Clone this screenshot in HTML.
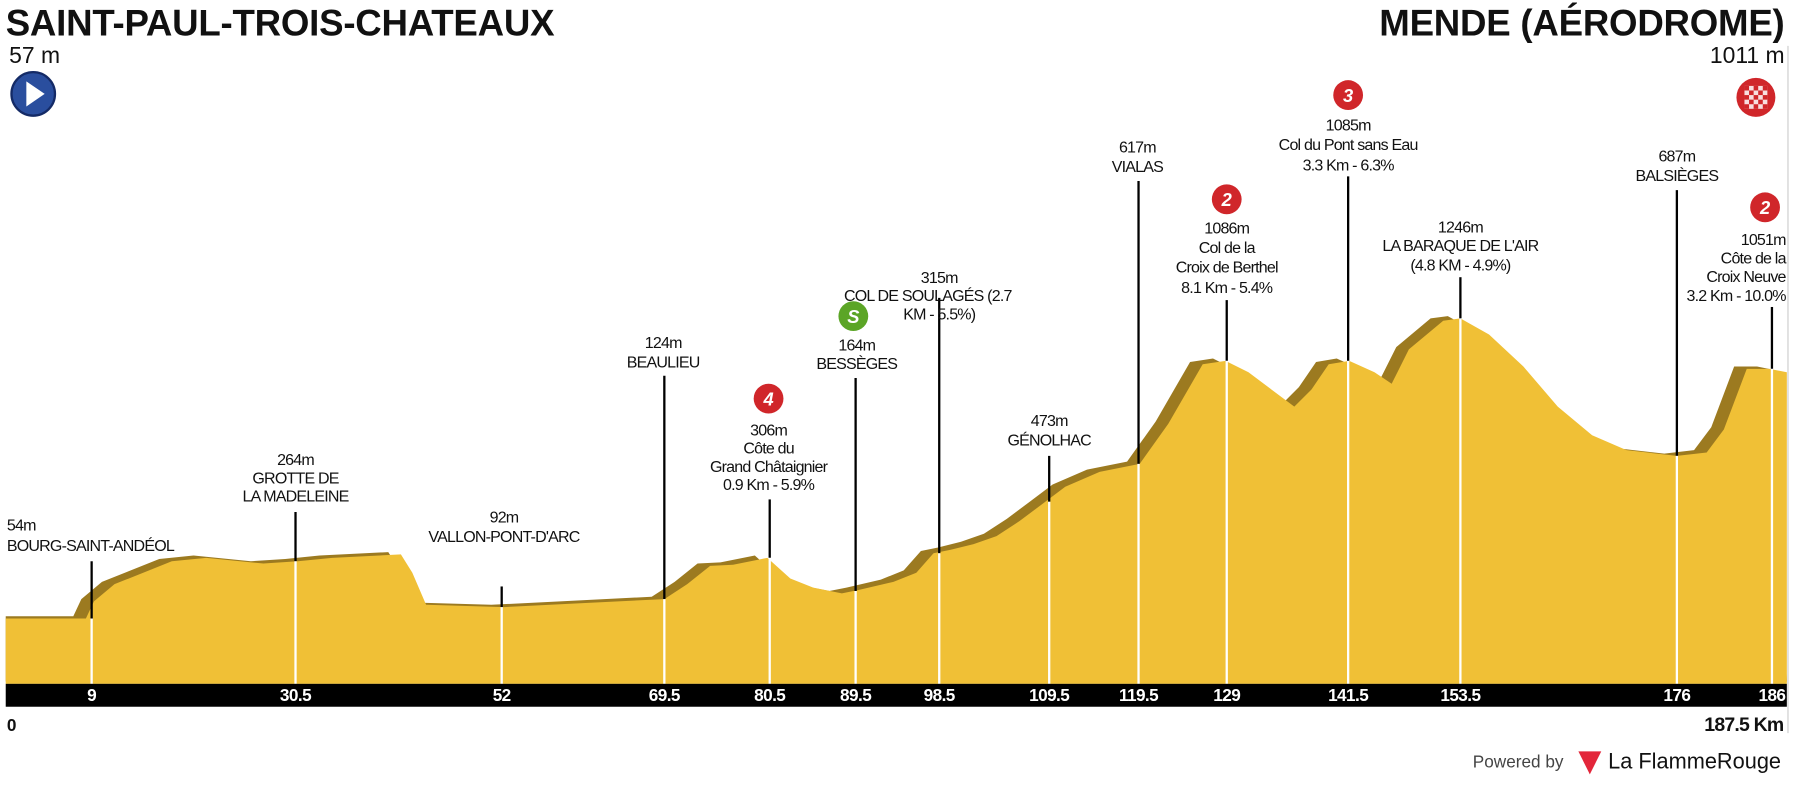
<!DOCTYPE html>
<html><head><meta charset="utf-8"><style>
html,body{margin:0;padding:0;background:#fff;width:1796px;height:786px;overflow:hidden}
svg{display:block}
text{font-family:"Liberation Sans",sans-serif;font-size:14px;letter-spacing:-0.7px;fill:#111}
.t{font-family:"Liberation Sans",sans-serif;font-weight:bold;font-size:32px;letter-spacing:-0.2px}
.km{font-family:"Liberation Sans",sans-serif;font-weight:bold;font-size:15px;fill:#fff;letter-spacing:-0.5px}
.c{fill:#fff;font-weight:bold;font-size:16px;font-style:italic;letter-spacing:0}
</style></head><body>
<svg width="1796" height="786" viewBox="0 0 1568 686.2" preserveAspectRatio="none">
<text x="5" y="31" class="t">SAINT-PAUL-TROIS-CHATEAUX</text>
<text x="8" y="55" style="font-size:20px;letter-spacing:0">57 m</text>
<circle cx="29" cy="82" r="19" fill="#2a4e9e" stroke="#142a66" stroke-width="2"/>
<polygon points="23,71 23,93 39,82" fill="#fff"/>
<text x="1558" y="31" class="t" text-anchor="end">MENDE (AÉRODROME)</text>
<text x="1558" y="55" text-anchor="end" style="font-size:20px;letter-spacing:0">1011 m</text>
<circle cx="1533" cy="85" r="17" fill="#d0262a"/>
<rect x="1523" y="75" width="20" height="20" fill="#fff" opacity="0.85"/>
<g fill="#d0262a"><rect x="1523" y="75" width="4" height="4"/><rect x="1531" y="75" width="4" height="4"/><rect x="1539" y="75" width="4" height="4"/><rect x="1527" y="79" width="4" height="4"/><rect x="1535" y="79" width="4" height="4"/><rect x="1523" y="83" width="4" height="4"/><rect x="1531" y="83" width="4" height="4"/><rect x="1539" y="83" width="4" height="4"/><rect x="1527" y="87" width="4" height="4"/><rect x="1535" y="87" width="4" height="4"/><rect x="1523" y="91" width="4" height="4"/><rect x="1531" y="91" width="4" height="4"/><rect x="1539" y="91" width="4" height="4"/></g>
<line x1="1561" y1="40" x2="1561" y2="640" stroke="#ccc" stroke-width="1"/>
<polygon fill="#9c7a20" transform="translate(-11,-2)" points="16,540 75,540 82,525 100,510 150,490 180,487 230,492 260,490 290,487 350,484 360,500 372,528 440,530 500,527 580,523 600,510 620,494 640,493 670,487 690,505 710,513 735,518 750,515 780,508 800,500 815,483 830,480 850,475 870,468 890,455 910,440 930,425 960,412 995,405 1020,370 1050,318 1070,315 1090,325 1110,340 1130,355 1145,340 1160,318 1178,315 1200,325 1215,335 1230,305 1260,280 1275,278 1300,292 1330,320 1360,355 1390,380 1420,393 1464,398 1490,395 1505,375 1525,322 1545,322 1560,325 1571,597 16,597"/>
<polygon fill="#f0c036" points="5,540 75,540 82,525 100,510 150,490 180,487 230,492 260,490 290,487 350,484 360,500 372,528 440,530 500,527 580,523 600,510 620,494 640,493 670,487 690,505 710,513 735,518 750,515 780,508 800,500 815,483 830,480 850,475 870,468 890,455 910,440 930,425 960,412 995,405 1020,370 1050,318 1070,315 1090,325 1110,340 1130,355 1145,340 1160,318 1178,315 1200,325 1215,335 1230,305 1260,280 1275,278 1300,292 1330,320 1360,355 1390,380 1420,393 1464,398 1490,395 1505,375 1525,322 1545,322 1560,325 1560,597 5,597"/>
<g stroke-width="2">
<line x1="80" y1="490" x2="80" y2="540" stroke="#000"/><line x1="80" y1="540" x2="80" y2="597" stroke="#fff"/>
<line x1="258" y1="447" x2="258" y2="490" stroke="#000"/><line x1="258" y1="490" x2="258" y2="597" stroke="#fff"/>
<line x1="438" y1="512" x2="438" y2="530" stroke="#000"/><line x1="438" y1="530" x2="438" y2="597" stroke="#fff"/>
<line x1="580" y1="328" x2="580" y2="523" stroke="#000"/><line x1="580" y1="523" x2="580" y2="597" stroke="#fff"/>
<line x1="672" y1="436" x2="672" y2="487" stroke="#000"/><line x1="672" y1="487" x2="672" y2="597" stroke="#fff"/>
<line x1="747" y1="330" x2="747" y2="516" stroke="#000"/><line x1="747" y1="516" x2="747" y2="597" stroke="#fff"/>
<line x1="820" y1="260" x2="820" y2="483" stroke="#000"/><line x1="820" y1="483" x2="820" y2="597" stroke="#fff"/>
<line x1="916" y1="398" x2="916" y2="438" stroke="#000"/><line x1="916" y1="438" x2="916" y2="597" stroke="#fff"/>
<line x1="994" y1="158" x2="994" y2="405" stroke="#000"/><line x1="994" y1="405" x2="994" y2="597" stroke="#fff"/>
<line x1="1071" y1="262" x2="1071" y2="315" stroke="#000"/><line x1="1071" y1="315" x2="1071" y2="597" stroke="#fff"/>
<line x1="1177" y1="154" x2="1177" y2="315" stroke="#000"/><line x1="1177" y1="315" x2="1177" y2="597" stroke="#fff"/>
<line x1="1275" y1="242" x2="1275" y2="278" stroke="#000"/><line x1="1275" y1="278" x2="1275" y2="597" stroke="#fff"/>
<line x1="1464" y1="166" x2="1464" y2="398" stroke="#000"/><line x1="1464" y1="398" x2="1464" y2="597" stroke="#fff"/>
<line x1="1547" y1="268" x2="1547" y2="322" stroke="#000"/><line x1="1547" y1="322" x2="1547" y2="597" stroke="#fff"/>
</g>
<rect x="5" y="597" width="1555" height="20" fill="#000"/>
<g text-anchor="middle">
<text class="km" x="80" y="612">9</text><text class="km" x="258" y="612">30.5</text><text class="km" x="438" y="612">52</text><text class="km" x="580" y="612">69.5</text><text class="km" x="672" y="612">80.5</text><text class="km" x="747" y="612">89.5</text><text class="km" x="820" y="612">98.5</text><text class="km" x="916" y="612">109.5</text><text class="km" x="994" y="612">119.5</text><text class="km" x="1071" y="612">129</text><text class="km" x="1177" y="612">141.5</text><text class="km" x="1275" y="612">153.5</text><text class="km" x="1464" y="612">176</text><text class="km" x="1547" y="612">186</text>
</g>
<text x="6" y="638" style="font-weight:bold;font-size:15px">0</text>
<text x="1557" y="638" text-anchor="end" style="font-weight:bold;font-size:17px">187.5 Km</text>
<text x="1365" y="670" text-anchor="end" style="font-size:15px;fill:#444;letter-spacing:0">Powered by</text>
<polygon points="1378,656 1398,656 1388,676" fill="#e3263a"/>
<text x="1404" y="671" style="font-size:19px;letter-spacing:0">La FlammeRouge</text>
<g text-anchor="middle">
<text x="6" y="463" text-anchor="start">54m</text><text x="6" y="481" text-anchor="start">BOURG-SAINT-ANDÉOL</text>
<text x="258" y="406">264m</text><text x="258" y="422">GROTTE DE</text><text x="258" y="438">LA MADELEINE</text>
<text x="440" y="456">92m</text><text x="440" y="473">VALLON-PONT-D'ARC</text>
<text x="579" y="304">124m</text><text x="579" y="321">BEAULIEU</text>
<circle cx="671" cy="348" r="13" fill="#d0262a"/><text x="671" y="354" class="c">4</text>
<text x="671" y="380">306m</text><text x="671" y="396">Côte du</text><text x="671" y="412">Grand Châtaignier</text><text x="671" y="428">0.9 Km - 5.9%</text>
<circle cx="745" cy="276" r="13" fill="#5ba526"/><text x="745" y="282" class="c">S</text>
<text x="748" y="306">164m</text><text x="748" y="322">BESSÈGES</text>
<text x="820" y="247">315m</text><text x="810" y="263">COL DE SOULAGÉS (2.7</text><text x="820" y="279">KM - 5.5%)</text>
<text x="916" y="372">473m</text><text x="916" y="389">GÉNOLHAC</text>
<text x="993" y="133">617m</text><text x="993" y="150">VIALAS</text>
<circle cx="1071" cy="174" r="13" fill="#d0262a"/><text x="1071" y="180" class="c">2</text>
<text x="1071" y="204">1086m</text><text x="1071" y="221">Col de la</text><text x="1071" y="238">Croix de Berthel</text><text x="1071" y="256">8.1 Km - 5.4%</text>
<circle cx="1177" cy="83" r="13" fill="#d0262a"/><text x="1177" y="89" class="c">3</text>
<text x="1177" y="114">1085m</text><text x="1177" y="131">Col du Pont sans Eau</text><text x="1177" y="149">3.3 Km - 6.3%</text>
<text x="1275" y="203">1246m</text><text x="1275" y="219">LA BARAQUE DE L'AIR</text><text x="1275" y="236">(4.8 KM - 4.9%)</text>
<text x="1464" y="141">687m</text><text x="1464" y="158">BALSIÈGES</text>
<circle cx="1541" cy="181" r="13" fill="#d0262a"/><text x="1541" y="187" class="c">2</text>
<text x="1559" y="214" text-anchor="end">1051m</text><text x="1559" y="230" text-anchor="end">Côte de la</text><text x="1559" y="246" text-anchor="end">Croix Neuve</text><text x="1559" y="263" text-anchor="end">3.2 Km - 10.0%</text>
</g>
</svg>
</body></html>
